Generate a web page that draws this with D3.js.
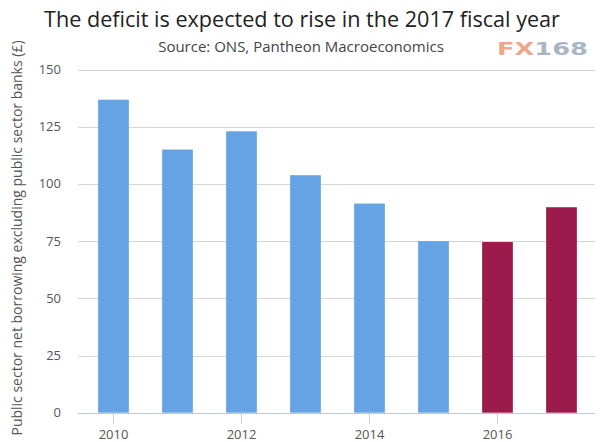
<!DOCTYPE html>
<html><head><meta charset="utf-8">
<script src="https://cdn.jsdelivr.net/npm/d3@7"></script>
<style>body{margin:0;background:#fff;} svg{display:block;}</style>
</head><body>
<script>
const years = [2010, 2011, 2012, 2013, 2014, 2015, 2016, 2017];
const values = [136.8, 115, 123, 103.8, 91.4, 75, 74.6, 89.8];
const forecast = [false, false, false, false, false, false, true, true];
const yTicks = [0, 25, 50, 75, 100, 125, 150];
const xTickLabels = [2010, 2012, 2014, 2016];
const title = "The deficit is expected to rise in the 2017 fiscal year";
const subtitle = "Source: ONS, Pantheon Macroeconomics";
const yLabel = "Public sector net borrowing excluding public sector banks (£)";

const W = 600, H = 442;
const svg = d3.select("body").append("svg").attr("width", W).attr("height", H);
const font = "'Open Sans', 'DejaVu Sans', sans-serif";

const x = d3.scaleBand().domain(years).range([81.5, 593.5]).paddingInner(0.52).paddingOuter(0.26);
const y = d3.scaleLinear().domain([0, 150]).range([412.7, 69.5]);

// gridlines
svg.append("g").selectAll("line").data(yTicks).join("line")
  .attr("x1", 78).attr("x2", 595)
  .attr("y1", d => Math.round(y(d)) + 0.5).attr("y2", d => Math.round(y(d)) + 0.5)
  .attr("stroke", "#d6d6d6").attr("stroke-width", 1);

// y tick labels
svg.append("g").selectAll("text").data(yTicks).join("text")
  .attr("x", 61).attr("y", d => y(d) + 4.5)
  .attr("text-anchor", "end").attr("font-family", font).attr("font-size", 13)
  .attr("fill", "#555").text(d => d);

// bars
svg.append("g").selectAll("rect").data(years).join("rect")
  .attr("x", d => x(d)).attr("width", x.bandwidth())
  .attr("y", (d, i) => y(values[i])).attr("height", (d, i) => y(0) - y(values[i]))
  .attr("fill", (d, i) => forecast[i] ? "#9c1a4c" : "#65a3e4");

// x axis
const xAxis = svg.append("g").attr("transform", `translate(0,${Math.round(y(0)) + 0.5})`)
  .call(d3.axisBottom(x).tickValues(xTickLabels).tickSize(10).tickPadding(6));
xAxis.select(".domain").attr("d", "M78,0H595").attr("stroke", "#c0c8d4");
xAxis.selectAll(".tick line").attr("stroke", "#c0c8d4");
xAxis.selectAll(".tick text").attr("font-family", font).attr("font-size", 13).attr("fill", "#555");

// title
svg.append("text").attr("x", 302).attr("y", 27).attr("text-anchor", "middle")
  .attr("font-family", font).attr("font-size", 21.6).attr("fill", "#222").text(title);
svg.append("text").attr("x", 301).attr("y", 52).attr("text-anchor", "middle")
  .attr("font-family", font).attr("font-size", 15).attr("fill", "#444").text(subtitle);

// y label
svg.append("text").attr("transform", "translate(22,238) rotate(-90)")
  .attr("text-anchor", "middle").attr("font-family", font).attr("font-size", 14)
  .attr("fill", "#555").text(yLabel);

// watermark
const wm = svg.append("text").attr("x", 497).attr("y", 55)
  .attr("font-family", "'DejaVu Sans', sans-serif").attr("font-weight", "bold").attr("font-size", 18)
  .attr("textLength", 91).attr("lengthAdjust", "spacingAndGlyphs");
wm.append("tspan").attr("fill", "#eda88c").text("FX");
wm.append("tspan").attr("fill", "#a9b5c3").text("168");
</script>
</body></html>
